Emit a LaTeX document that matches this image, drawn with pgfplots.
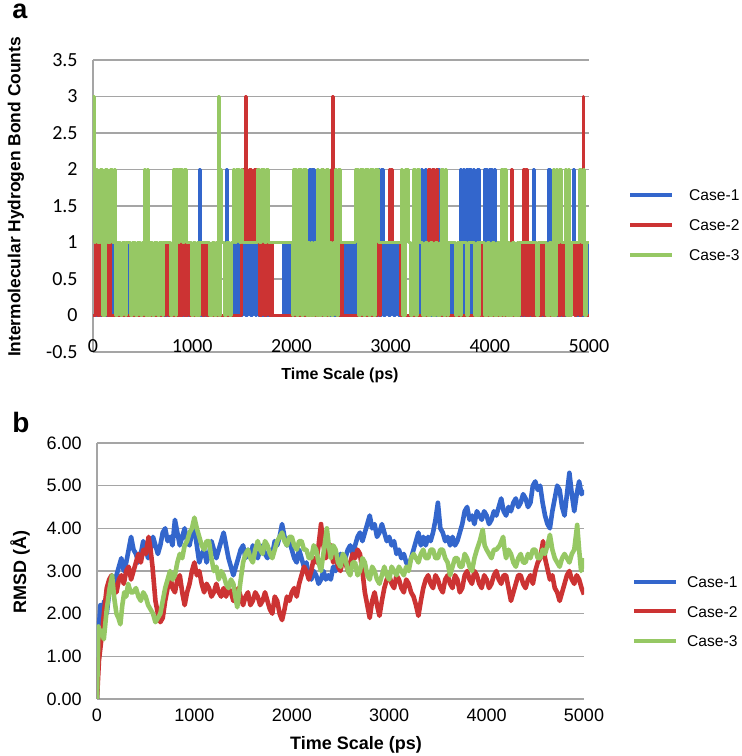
\documentclass[border=0pt]{standalone}
\usepackage{fontspec}
\setmainfont{Liberation Sans}
\newfontfamily\calibri{Carlito}
\usepackage{pgfplots}
\pgfplotsset{compat=1.18}
\definecolor{cblue}{RGB}{51,102,204}
\definecolor{cred}{RGB}{204,51,51}
\definecolor{cgreen}{RGB}{150,200,100}
\definecolor{gridgray}{RGB}{165,165,165}
\begin{document}
\begin{tikzpicture}
\useasboundingbox (0,0) rectangle (371pt,378pt);
% ---------------- panel a ----------------
\begin{axis}[
  at={(46.5pt,202pt)}, anchor=south west, scale only axis,
  width=248pt, height=146pt,
  xmin=0, xmax=5000, ymin=-0.5, ymax=3.5,
  xtick={0,1000,2000,3000,4000,5000}, xticklabels={0,1000,2000,3000,4000,5000},
  ytick={-0.5,0,0.5,1,1.5,2,2.5,3,3.5}, yticklabels={-0.5,0,0.5,1,1.5,2,2.5,3,3.5},
  axis x line*=bottom, axis y line*=left,
  axis line style={gridgray, line width=0.6pt, -},
  major tick length=0pt,
  ymajorgrids, grid style={gridgray, line width=0.6pt},
  tick label style={font=\calibri\fontsize{10}{12}\selectfont, inner sep=0pt},
  yticklabel style={anchor=east, xshift=-7.5pt},
  xticklabel style={anchor=base, yshift=-0.5pt},
  legend style={draw=none, fill=none, inner sep=0pt, outer sep=0pt,
    at={(axis description cs:1.079,0.566)}, anchor=north west,
    font=\fontsize{7.8}{10}\selectfont, row sep=6pt, column sep=7.5pt,
    nodes={inner sep=0pt, text height=7pt, text depth=2pt, anchor=base west}},
  legend cell align=left,
  legend image code/.code={\draw[line width=2pt] (0pt,3pt) -- (21pt,3pt);},
  every axis plot/.append style={line width=1.5pt, line join=round, const plot},
]
\addplot[cblue] coordinates {(0,0)(175,0)(178,1)(190,0)(205,1)(210,0)(340,0)(345,1)(355,0)(365,1)(370,0)(1070,0)(1075,2)(1080,0)(1345,0)(1350,2)(1360,0)(1400,0)(1412,1)(1437,0)(1462,1)(1487,0)(1512,1)(1537,0)(1562,1)(1587,0)(1612,1)(1637,0)(1650,1)(1670,0)(1915,0)(1919,1)(1944,0)(1969,1)(1994,0)(2019,1)(2025,0)(2165,0)(2170,1)(2185,2)(2200,1)(2215,2)(2237,1)(2245,0)(2535,0)(2540,1)(2565,0)(2590,1)(2615,0)(2641,1)(2650,0)(2870,0)(2876,2)(2890,0)(2910,2)(2925,0)(2950,1)(2975,0)(3000,1)(3025,0)(3050,1)(3075,0)(3095,1)(3100,0)(3295,0)(3300,1)(3312,2)(3325,1)(3350,2)(3360,0)(3460,0)(3464,1)(3475,2)(3490,1)(3514,2)(3520,0)(3578,0)(3582,1)(3600,0)(3615,1)(3632,0)(3678,0)(3682,1)(3700,2)(3716,0)(3733,2)(3750,0)(3766,2)(3783,0)(3800,2)(3817,0)(3834,2)(3850,1)(3875,2)(3901,1)(3934,1)(3950,2)(3975,1)(4000,2)(4025,1)(4052,2)(4060,0)(4430,0)(4440,2)(4450,0)(4568,0)(4573,1)(4590,2)(4607,1)(4612,0)(4820,0)(4825,1)(4840,2)(4858,1)(4860,0)(4970,0)(4976,1)(4988,0)(5000,1)};
\addlegendentry{Case-1}
\addplot[cred] coordinates {(0,0)(25,0)(30,1)(50,0)(70,1)(88,0)(125,0)(131,1)(150,0)(165,1)(178,0)(710,0)(715,1)(730,0)(745,1)(760,0)(770,1)(775,0)(855,0)(860,1)(875,0)(900,1)(925,0)(950,1)(975,0)(1070,0)(1075,1)(1100,0)(1125,1)(1145,0)(1160,1)(1165,0)(1235,0)(1240,1)(1250,0)(1260,1)(1265,0)(1495,0)(1500,1)(1510,2)(1525,1)(1540,3)(1550,1)(1575,2)(1600,1)(1625,2)(1650,1)(1675,0)(1700,1)(1725,0)(1750,1)(1775,0)(1800,1)(1810,0)(2305,0)(2312,2)(2320,0)(2380,0)(2389,1)(2400,2)(2410,3)(2420,1)(2430,2)(2440,1)(2450,0)(2485,0)(2490,1)(2500,0)(2510,1)(2520,0)(2835,0)(2840,1)(2855,0)(2870,1)(2885,0)(2900,1)(2977,1)(2985,2)(2995,1)(3010,2)(3020,1)(3095,1)(3100,0)(3365,0)(3370,1)(3385,2)(3400,1)(3425,2)(3440,1)(3460,2)(3470,0)(3900,0)(3905,1)(3920,0)(3934,1)(3940,0)(4210,0)(4220,2)(4230,0)(4304,0)(4310,1)(4325,0)(4340,2)(4355,0)(4371,2)(4385,0)(4400,1)(4425,0)(4440,1)(4455,0)(4489,1)(4500,0)(4525,1)(4540,0)(4556,1)(4560,0)(4670,0)(4674,1)(4690,0)(4710,1)(4730,0)(4750,1)(4775,0)(4820,0)(4825,1)(4850,0)(4875,1)(4900,0)(4925,1)(4935,1)(4940,3)(4945,1)(4950,0)(5000,0)};
\addlegendentry{Case-2}
\addplot[cgreen] coordinates {(0,2)(10,3)(20,1)(25,2)(50,1)(75,2)(100,0)(125,2)(150,1)(175,2)(200,1)(212,2)(225,0)(250,1)(275,0)(300,1)(325,0)(340,1)(365,1)(375,0)(400,1)(425,0)(450,1)(475,0)(500,1)(515,2)(530,0)(545,2)(558,0)(575,1)(600,0)(625,1)(650,0)(675,1)(700,0)(715,1)(770,1)(785,0)(800,1)(815,2)(830,0)(845,2)(860,1)(875,2)(900,1)(925,2)(944,1)(975,1)(990,0)(1010,1)(1030,0)(1050,1)(1065,0)(1075,1)(1160,1)(1175,0)(1200,1)(1225,0)(1240,1)(1250,1)(1262,0)(1270,3)(1280,0)(1290,2)(1300,1)(1325,0)(1350,1)(1375,0)(1400,1)(1412,2)(1425,1)(1450,2)(1475,1)(1500,2)(1510,1)(1650,1)(1662,2)(1675,1)(1700,2)(1725,1)(1750,2)(1768,1)(2000,1)(2012,0)(2025,2)(2050,0)(2075,2)(2100,0)(2125,2)(2150,0)(2170,1)(2185,0)(2200,1)(2215,0)(2237,1)(2250,0)(2262,2)(2275,0)(2300,2)(2325,0)(2350,2)(2375,0)(2389,1)(2400,0)(2425,1)(2440,2)(2455,0)(2470,2)(2490,1)(2640,1)(2650,2)(2675,0)(2700,2)(2725,0)(2750,2)(2775,0)(2800,2)(2825,0)(2850,2)(2876,1)(3095,1)(3110,2)(3125,0)(3150,2)(3180,1)(3200,0)(3220,1)(3235,2)(3250,0)(3275,2)(3296,1)(3325,0)(3350,1)(3375,0)(3400,1)(3425,0)(3450,1)(3475,0)(3500,1)(3514,2)(3530,0)(3550,2)(3565,1)(3575,0)(3582,1)(3632,1)(3650,0)(3675,1)(3700,0)(3716,1)(3750,1)(3765,0)(3783,1)(3834,1)(3850,0)(3875,1)(3890,0)(3901,1)(3934,1)(3950,0)(3975,1)(4000,0)(4025,1)(4050,0)(4075,1)(4100,0)(4119,2)(4135,0)(4150,2)(4170,0)(4186,1)(4200,0)(4225,1)(4250,0)(4275,1)(4290,0)(4304,1)(4455,1)(4470,0)(4489,1)(4556,1)(4575,0)(4600,1)(4625,0)(4640,2)(4655,0)(4670,2)(4685,1)(4707,2)(4720,1)(4758,1)(4765,2)(4775,0)(4790,2)(4808,0)(4825,1)(4892,1)(4905,2)(4920,1)(4942,2)(4955,0)(4976,1)(5000,1)};
\addlegendentry{Case-3}
\end{axis}
% ---------------- panel b ----------------
\begin{axis}[
  at={(48.5pt,28.5pt)}, anchor=south west, scale only axis,
  width=243.5pt, height=128pt,
  xmin=0, xmax=5000, ymin=0, ymax=6,
  xtick={0,1000,2000,3000,4000,5000}, xticklabels={0,1000,2000,3000,4000,5000},
  ytick={0,1,2,3,4,5,6}, yticklabels={0.00,1.00,2.00,3.00,4.00,5.00,6.00},
  axis x line*=bottom, axis y line*=left,
  axis line style={gridgray, line width=0.6pt, -},
  major tick length=0pt,
  ymajorgrids, grid style={gridgray, line width=0.6pt},
  tick label style={font=\fontsize{9}{11}\selectfont, inner sep=0pt},
  yticklabel style={anchor=east, xshift=-7.5pt},
  xticklabel style={anchor=base, yshift=-11.5pt},
  legend style={draw=none, fill=none, inner sep=0pt, outer sep=0pt,
    at={(axis description cs:1.099,0.489)}, anchor=north west,
    font=\fontsize{7.8}{10}\selectfont, row sep=5.75pt, column sep=4.5pt,
    nodes={inner sep=0pt, text height=7pt, text depth=2pt, anchor=base west}},
  legend cell align=left,
  legend image code/.code={\draw[line width=2pt] (0pt,3pt) -- (21pt,3pt);},
  every axis plot/.append style={line width=2.3pt, line join=round},
]
\addplot[cblue] coordinates {(0,0.0)(20,1.7)(35,2.2)(50,2.0)(75,2.3)(100,2.0)(125,2.5)(150,2.7)(175,2.5)(200,2.9)(225,3.1)(250,3.3)(275,3.0)(300,3.2)(325,3.5)(350,3.8)(375,3.5)(400,3.4)(425,3.2)(450,3.4)(475,3.7)(500,3.5)(525,3.3)(550,3.5)(575,3.8)(600,3.6)(625,3.4)(650,3.6)(675,3.9)(700,4.0)(725,3.7)(750,3.8)(775,3.6)(800,4.2)(825,3.9)(850,3.6)(875,3.8)(900,4.0)(925,3.7)(950,3.6)(975,3.9)(1000,4.0)(1025,3.6)(1050,3.2)(1075,3.4)(1100,3.5)(1125,3.2)(1150,3.4)(1175,3.7)(1200,3.5)(1225,3.3)(1250,3.5)(1275,3.7)(1300,3.9)(1325,3.6)(1350,3.3)(1375,3.1)(1400,2.9)(1425,3.1)(1450,3.3)(1475,3.5)(1500,3.6)(1525,3.3)(1550,3.5)(1575,3.3)(1600,3.6)(1625,3.4)(1650,3.3)(1675,3.5)(1700,3.6)(1725,3.4)(1750,3.3)(1775,3.5)(1800,3.4)(1825,3.7)(1850,3.6)(1875,3.8)(1900,4.1)(1925,3.8)(1950,3.6)(1975,3.7)(2000,3.5)(2025,3.3)(2050,3.2)(2075,3.5)(2100,3.3)(2125,3.1)(2150,3.2)(2175,2.9)(2200,2.8)(2225,3.0)(2250,2.9)(2275,2.7)(2300,2.8)(2325,3.0)(2350,2.8)(2375,2.9)(2400,2.8)(2425,3.1)(2450,3.0)(2475,3.3)(2500,3.4)(2525,3.2)(2550,3.3)(2575,3.5)(2600,3.6)(2625,3.4)(2650,3.6)(2675,3.8)(2700,3.9)(2725,3.7)(2750,3.9)(2775,4.1)(2800,4.3)(2825,4.0)(2850,4.1)(2875,3.8)(2900,3.9)(2925,4.1)(2950,3.9)(2975,3.7)(3000,3.8)(3025,3.6)(3050,3.7)(3075,3.4)(3100,3.5)(3125,3.3)(3150,3.4)(3175,3.2)(3200,3.1)(3225,3.3)(3250,3.5)(3275,3.7)(3300,3.9)(3325,3.6)(3350,3.8)(3375,3.6)(3400,3.8)(3425,3.7)(3450,3.9)(3475,4.2)(3500,4.6)(3525,4.0)(3550,3.9)(3575,3.7)(3600,3.8)(3625,3.6)(3650,3.8)(3675,3.6)(3700,3.7)(3725,3.9)(3750,4.1)(3775,4.4)(3800,4.5)(3825,4.2)(3850,4.3)(3875,4.1)(3900,4.4)(3925,4.3)(3950,4.2)(3975,4.4)(4000,4.3)(4025,4.1)(4050,4.2)(4075,4.4)(4100,4.3)(4125,4.5)(4150,4.7)(4175,4.4)(4200,4.3)(4225,4.5)(4250,4.4)(4275,4.6)(4300,4.7)(4325,4.5)(4350,4.6)(4375,4.8)(4400,4.7)(4425,4.5)(4450,4.6)(4475,5.0)(4500,5.1)(4525,4.9)(4550,5.0)(4575,4.6)(4600,4.3)(4625,4.1)(4650,4.0)(4675,4.4)(4700,4.7)(4725,5.0)(4750,4.9)(4775,4.5)(4800,4.3)(4825,4.8)(4850,5.3)(4875,4.8)(4900,4.4)(4925,4.8)(4950,5.1)(4975,4.8)(5000,4.9)};
\addlegendentry{Case-1}
\addplot[cred] coordinates {(0,0.0)(20,0.9)(35,1.2)(50,1.5)(75,2.1)(100,2.6)(125,2.8)(150,2.9)(175,2.6)(200,2.5)(225,2.8)(250,2.9)(275,2.7)(300,3.0)(325,3.1)(350,2.8)(375,3.0)(400,3.2)(425,3.4)(450,3.2)(475,3.5)(500,3.4)(530,3.8)(550,3.5)(570,3.1)(585,2.7)(600,2.3)(625,2.0)(650,1.8)(675,1.9)(700,2.3)(725,2.6)(750,2.9)(775,2.6)(800,2.5)(825,2.8)(850,2.9)(875,2.5)(900,2.2)(925,2.5)(950,2.7)(975,3.0)(1000,3.2)(1025,2.9)(1050,3.0)(1075,2.7)(1100,2.5)(1125,2.7)(1150,2.6)(1175,2.4)(1200,2.5)(1225,2.7)(1250,2.5)(1275,2.4)(1300,2.6)(1325,2.4)(1350,2.6)(1375,2.5)(1400,2.3)(1425,2.4)(1450,2.6)(1475,2.4)(1500,2.2)(1525,2.4)(1550,2.5)(1575,2.2)(1600,2.3)(1625,2.5)(1650,2.4)(1675,2.2)(1700,2.3)(1725,2.5)(1750,2.3)(1775,2.1)(1800,2.0)(1825,2.4)(1850,2.3)(1875,2.0)(1900,1.85)(1925,2.1)(1950,2.4)(1975,2.3)(2000,2.5)(2025,2.6)(2050,2.4)(2075,2.7)(2100,2.9)(2125,3.1)(2150,3.0)(2175,2.8)(2200,3.0)(2225,3.3)(2250,3.2)(2275,3.6)(2300,4.1)(2325,3.6)(2350,3.3)(2375,3.5)(2400,3.6)(2425,3.2)(2450,3.4)(2475,3.1)(2500,3.0)(2525,3.3)(2550,3.2)(2575,3.0)(2600,3.2)(2625,3.4)(2650,3.3)(2675,3.5)(2700,3.4)(2725,3.0)(2750,2.5)(2775,2.2)(2800,1.9)(2825,2.3)(2850,2.5)(2875,2.2)(2900,1.95)(2925,2.3)(2950,2.6)(2975,2.8)(3000,2.9)(3025,2.7)(3050,2.6)(3075,2.9)(3100,2.8)(3125,2.6)(3150,2.5)(3175,2.8)(3200,2.7)(3225,2.5)(3250,2.4)(3275,2.2)(3300,1.95)(3325,2.3)(3350,2.6)(3375,2.8)(3400,2.9)(3425,2.7)(3450,2.6)(3475,2.9)(3500,2.8)(3525,2.6)(3550,2.5)(3575,2.8)(3600,2.9)(3625,2.7)(3650,2.6)(3675,2.9)(3700,2.8)(3725,2.5)(3750,2.6)(3775,2.9)(3800,3.0)(3825,2.8)(3850,2.7)(3875,3.0)(3900,2.9)(3925,2.7)(3950,2.6)(3975,2.9)(4000,2.8)(4025,2.6)(4050,2.7)(4075,2.9)(4100,3.0)(4125,2.8)(4150,2.7)(4175,2.9)(4200,2.9)(4225,2.6)(4250,2.3)(4275,2.5)(4300,2.7)(4325,2.9)(4350,2.9)(4375,2.7)(4400,2.6)(4425,2.8)(4450,2.9)(4475,2.7)(4500,3.0)(4525,3.2)(4550,3.3)(4580,3.7)(4600,3.3)(4620,3.1)(4650,2.8)(4675,2.9)(4700,2.6)(4725,2.5)(4750,2.3)(4775,2.5)(4800,2.7)(4825,2.9)(4850,3.0)(4875,2.8)(4900,2.7)(4925,2.9)(4950,2.8)(4975,2.6)(5000,2.45)};
\addlegendentry{Case-2}
\addplot[cgreen] coordinates {(0,0.0)(15,1.7)(35,1.5)(50,1.6)(70,1.4)(100,2.1)(130,2.6)(155,2.9)(175,2.4)(200,2.0)(220,1.9)(240,1.75)(260,2.2)(280,2.5)(300,2.4)(320,2.7)(345,2.5)(370,2.5)(400,2.6)(425,2.4)(450,2.3)(475,2.5)(500,2.4)(525,2.2)(550,2.1)(575,2.0)(600,1.8)(625,1.9)(650,2.0)(675,2.3)(700,2.6)(725,2.8)(750,3.0)(775,2.8)(800,2.9)(825,3.2)(850,3.4)(875,3.3)(900,3.6)(925,3.7)(950,3.9)(975,4.0)(1000,4.25)(1025,4.0)(1050,3.8)(1075,3.6)(1100,3.5)(1125,3.7)(1150,3.7)(1175,3.3)(1200,3.0)(1225,3.1)(1250,2.8)(1275,3.0)(1300,2.9)(1325,2.7)(1350,2.6)(1375,2.8)(1400,2.7)(1420,2.4)(1440,2.15)(1470,2.7)(1500,3.2)(1525,3.4)(1550,3.5)(1575,3.3)(1600,3.2)(1625,3.5)(1650,3.7)(1675,3.5)(1700,3.4)(1725,3.7)(1750,3.6)(1775,3.4)(1800,3.3)(1825,3.5)(1850,3.7)(1875,3.8)(1900,3.9)(1925,3.7)(1950,3.6)(1975,3.8)(2000,3.8)(2025,3.6)(2050,3.5)(2075,3.7)(2100,3.7)(2125,3.5)(2150,3.5)(2175,3.3)(2200,3.3)(2225,3.6)(2250,3.5)(2275,3.2)(2300,3.0)(2330,3.5)(2360,4.0)(2380,3.6)(2400,3.3)(2425,3.6)(2450,3.5)(2475,3.2)(2500,3.1)(2525,3.4)(2550,3.3)(2575,3.0)(2600,2.9)(2625,3.2)(2650,3.2)(2675,2.9)(2700,3.0)(2725,3.3)(2750,3.2)(2775,2.9)(2800,2.8)(2825,3.1)(2850,3.0)(2875,2.8)(2900,2.7)(2925,2.9)(2950,3.1)(2975,2.9)(3000,2.8)(3025,3.1)(3050,3.0)(3075,2.9)(3100,3.1)(3125,3.0)(3150,2.9)(3175,3.1)(3200,3.0)(3225,3.3)(3250,3.4)(3275,3.3)(3300,3.2)(3325,3.4)(3350,3.5)(3375,3.3)(3400,3.3)(3425,3.5)(3450,3.5)(3475,3.3)(3500,3.3)(3525,3.5)(3550,3.5)(3575,3.3)(3600,3.2)(3625,2.9)(3650,3.1)(3675,3.3)(3700,3.3)(3725,3.1)(3750,3.1)(3775,3.4)(3800,3.3)(3825,3.1)(3850,3.0)(3875,3.3)(3900,3.5)(3930,3.7)(3960,3.97)(3980,3.6)(4000,3.5)(4025,3.4)(4050,3.3)(4075,3.5)(4100,3.5)(4135,3.6)(4170,3.8)(4185,3.5)(4200,3.3)(4225,3.5)(4250,3.4)(4275,3.2)(4300,3.1)(4325,3.3)(4350,3.4)(4375,3.2)(4400,3.2)(4425,3.4)(4450,3.3)(4475,3.5)(4500,3.5)(4525,3.3)(4550,3.3)(4575,3.5)(4600,3.4)(4625,3.6)(4650,3.85)(4675,3.5)(4700,3.3)(4725,3.2)(4750,3.1)(4775,3.3)(4800,3.4)(4825,3.3)(4850,3.2)(4875,3.4)(4900,3.5)(4930,4.08)(4950,3.5)(4970,3.0)(5000,3.3)};
\addlegendentry{Case-3}
\end{axis}
% ---------------- labels ----------------
\node[anchor=base west, inner sep=0pt, font=\bfseries\fontsize{13.5}{16}\selectfont] at (6pt,368.5pt) {a};
\node[anchor=base west, inner sep=0pt, font=\bfseries\fontsize{14}{16}\selectfont] at (6pt,161.5pt) {b};
\node[font=\bfseries\fontsize{8}{10}\selectfont] at (170pt,190.5pt) {Time Scale (ps)};
\node[rotate=90, font=\bfseries\fontsize{8.7}{10}\selectfont] at (8pt,279.5pt) {Intermolecular Hydrogen Bond Counts};
\node[font=\bfseries\fontsize{9}{11}\selectfont] at (178pt,5.5pt) {Time Scale (ps)};
\node[rotate=90, font=\bfseries\fontsize{9}{11}\selectfont] at (10pt,92pt) {RMSD (Å)};
\end{tikzpicture}
\end{document}
